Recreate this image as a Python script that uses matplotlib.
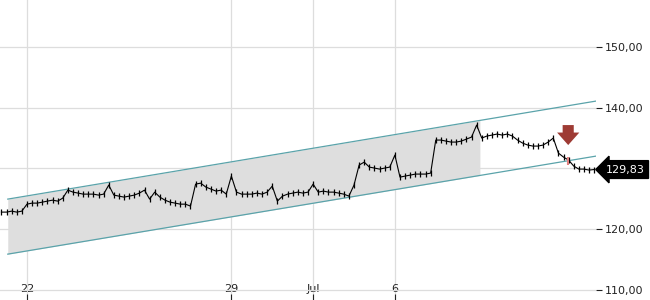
import numpy as np
import matplotlib
matplotlib.use('Agg')
import matplotlib.pyplot as plt
from matplotlib.ticker import FuncFormatter

# session index: 0 = 22 Jun, 8 samples per trading day
t0, step = -0.625, 0.125
price = [122.82, 122.82, 122.98, 122.82, 122.98, 124.13, 124.30, 124.30, 124.46, 124.63,
         124.79, 124.63, 125.12, 126.44, 126.11, 125.95, 125.78, 125.78, 125.78, 125.62,
         125.78, 127.27, 125.62, 125.45, 125.29, 125.45, 125.62, 125.95, 126.44, 124.96,
         126.11, 125.29, 124.79, 124.46, 124.30, 124.13, 124.13, 123.81, 127.43, 127.59,
         126.94, 126.61, 126.28, 126.44, 125.78, 128.75, 126.11, 125.78, 125.78, 125.78,
         125.95, 125.78, 126.11, 127.10, 124.63, 125.45, 125.78, 125.95, 126.11, 125.95,
         126.11, 127.43, 126.11, 126.28, 126.11, 126.11, 125.95, 125.78, 125.45, 127.27,
         130.56, 131.05, 130.23, 130.07, 129.90, 130.07, 130.23, 132.21, 128.58, 128.75,
         128.91, 129.08, 129.08, 129.08, 129.24, 134.68, 134.68, 134.51, 134.35, 134.35,
         134.51, 134.84, 135.17, 137.15, 135.01, 135.34, 135.50, 135.67, 135.50, 135.67,
         135.34, 134.68, 134.18, 133.86, 133.69, 133.69, 133.86, 134.35, 135.01, 132.54,
         131.88, 131.38, 130.40, 129.90, 129.90, 129.74, 129.83]

tick_pos = [0, 5, 7, 9]
tick_lab = ['22', '29', 'Jul', '6']
y_ticks = [110, 120, 130, 140, 150]

# trend channel
chan_t = [-0.47, 13.92]
chan_hi = [124.96, 141.10]
chan_lo = [115.90, 132.04]
shade_end = 11.08

last = 129.83
signal_t = 13.24
signal_top, signal_tip = 137.15, 133.86
signal_bar = [131.9, 130.6]

t = t0 + step * np.arange(len(price))

fig = plt.figure(figsize=(6.5, 3), dpi=100)
ax = fig.add_axes([0, 0, 596 / 650, 1])
ax.set_xlim(-0.66, 13.92)
ax.set_ylim(108.35, 157.74)

for s in ax.spines.values():
    s.set_visible(False)

ax.set_yticks(y_ticks)
ax.set_xticks(tick_pos)
ax.set_xticklabels(tick_lab)
ax.grid(True, color='#dddddd', lw=0.9, zorder=0)
ax.set_axisbelow(True)
ax.yaxis.tick_right()
# the 130 label sits under the last-price tag
ax.yaxis.set_major_formatter(FuncFormatter(
    lambda v, p: '' if v == round(last, -1) else f'{v:.2f}'.replace('.', ',')))
ax.tick_params(axis='y', length=4, width=0.8, pad=2.5, labelsize=8, colors='#222222')
ax.tick_params(axis='x', direction='in', length=4.5, width=0.8, pad=-11.5,
               labelsize=8, colors='#222222')

# channel shading + lines
slope_hi = (chan_hi[1] - chan_hi[0]) / (chan_t[1] - chan_t[0])
slope_lo = (chan_lo[1] - chan_lo[0]) / (chan_t[1] - chan_t[0])
ts = np.array([chan_t[0], shade_end])
ax.fill_between(ts, chan_lo[0] + slope_lo * (ts - chan_t[0]),
                chan_hi[0] + slope_hi * (ts - chan_t[0]),
                color='#dedede', lw=0, zorder=1)
ax.plot(chan_t, chan_hi, color='#5aa3aa', lw=0.9, zorder=2)
ax.plot(chan_t, chan_lo, color='#5aa3aa', lw=0.9, zorder=2)

ax.plot(t, price, color='black', lw=0.8, marker='|', ms=4, mew=0.9, zorder=3)
ax.vlines(signal_t, signal_bar[1], signal_bar[0], color='#e08080', lw=1.5, zorder=4)

ax.annotate('', xy=(signal_t, signal_tip), xytext=(signal_t, signal_top),
            arrowprops=dict(arrowstyle='simple,head_width=1.6,head_length=0.9,tail_width=0.8',
                            color='#9e3b34', lw=0, shrinkA=0, shrinkB=0),
            zorder=5)

ax.annotate(f'{last:.2f}'.replace('.', ','), xy=(1.0, last), xycoords=('axes fraction', 'data'),
            xytext=(7, 0), textcoords='offset points', va='center', ha='left',
            color='white', fontsize=8, annotation_clip=False, zorder=10,
            bbox=dict(boxstyle='larrow,pad=0.35', fc='black', ec='black'))

fig.savefig('out.png', dpi=100)
